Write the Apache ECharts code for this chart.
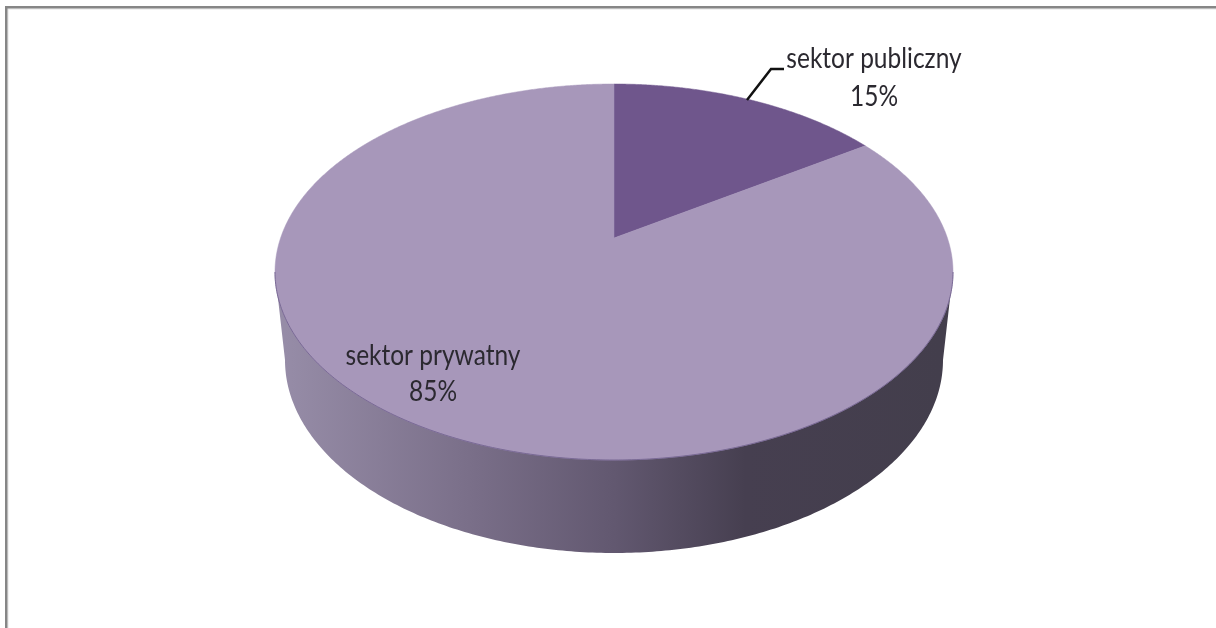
<!DOCTYPE html>
<html><head><meta charset="utf-8">
<style>html,body{margin:0;padding:0;background:#fff}#c{width:1216px;height:628px}</style>
<script src="https://cdn.jsdelivr.net/npm/echarts@6/dist/echarts.min.js"></script>
</head><body><div id="c"></div>
<script>
const categories = ['sektor publiczny', 'sektor prywatny'];
const values = [15, 85];
const sliceColors = ['#6f568c', '#a797ba'];

const chart = echarts.init(document.getElementById('c'), null, {renderer:'canvas'});
const total = values.reduce((a,b)=>a+b,0);
const C = {x:614,y:272,rx:339,ry:188};       // top ellipse
const B = {x:614,y:360,rx:329,ry:193};       // bottom ellipse
const A = {x:614,y:238,s:0.505};             // perspective apex
function rim(theta){
  const dx=Math.sin(theta), dy=-Math.cos(theta)*A.s;
  const ox=(A.x-C.x)/C.rx, oy=(A.y-C.y)/C.ry, px=dx/C.rx, py=dy/C.ry;
  const a=px*px+py*py, b=2*(ox*px+oy*py), c=ox*ox+oy*oy-1;
  const t=(-b+Math.sqrt(b*b-4*a*c))/(2*a);
  return [A.x+dx*t, A.y+dy*t];
}
const font = '28px Lato';
const labelPos = [{x:874,y:59,lx:874,ly:97},{x:433,y:356,lx:433,ly:392}];
function label(text,x,y){
  return {type:'text',x:x,y:y,scaleX:0.875,z2:10,style:{text:text,font:font,fill:'#2b2930',textAlign:'center',textVerticalAlign:'middle'}};
}
function renderSlice(params,api){
  const i=params.dataIndex;
  let before=0; for(let k=0;k<i;k++) before+=values[k];
  const v=api.value(1);
  const a0=before/total*Math.PI*2, a1=(before+v)/total*Math.PI*2;
  const n=Math.max(2,Math.round((a1-a0)/(Math.PI*2)*1200));
  const pts=[[A.x,A.y]];
  for(let k=0;k<=n;k++) pts.push(rim(a0+(a1-a0)*k/n));
  const kids=[{type:'polygon',shape:{points:pts},style:{fill:sliceColors[i],stroke:sliceColors[i],lineWidth:0.5}}];
  const p=labelPos[i];
  if(i===1){
    const front=[];
    for(let k=0;k<=240;k++){
      const t=Math.PI*k/240;
      front.push([C.x-C.rx*Math.cos(t),C.y+C.ry*Math.sin(t)]);
    }
    kids.push({type:'polyline',shape:{points:front},style:{stroke:'#7a6a96',lineWidth:1,fill:null}});
  }
  kids.push(label(categories[i],p.x,p.y));
  kids.push(label(Math.round(v/total*100)+'%',p.lx,p.ly));
  if(i===0){
    kids.push({type:'polyline',shape:{points:[[747,100],[771,69],[784,69]]},style:{stroke:'#111',lineWidth:2.5,fill:null}});
  }
  return {type:'group',children:kids};
}
function renderSide(){
  const pts=[[C.x-C.rx,C.y]];
  for(let k=0;k<=240;k++){
    const t=Math.PI*k/240;
    pts.push([B.x-B.rx*Math.cos(t),B.y+B.ry*Math.sin(t)]);
  }
  pts.push([C.x+C.rx,C.y]);
  const grad=new echarts.graphic.LinearGradient(285,0,943,0,[
    {offset:0,color:'#968ca7'},{offset:0.28,color:'#7a6f89'},{offset:0.5,color:'#625870'},
    {offset:0.7,color:'#463f50'},{offset:1,color:'#433e4c'}],true);
  return {type:'polygon',shape:{points:pts},style:{fill:grad}};
}
chart.setOption({
  animation:false,
  backgroundColor:'#fff',
  graphic:[
    {type:'rect',shape:{x:5,y:8.5,width:1211,height:1},style:{fill:'#e4e4e4'},silent:true},
    {type:'rect',shape:{x:7.5,y:8,width:1,height:620},style:{fill:'#e4e4e4'},silent:true},
    {type:'rect',shape:{x:5,y:6,width:1211,height:2.5},style:{fill:'#868686'},silent:true},
    {type:'rect',shape:{x:5,y:6,width:2.5,height:622},style:{fill:'#868686'},silent:true}
  ],
  series:[
    {type:'custom',coordinateSystem:'none',silent:true,z:1,data:[[0]],renderItem:renderSide},
    {type:'custom',coordinateSystem:'none',silent:true,z:2,
     data:values.map((v,i)=>({name:categories[i],value:[i,v]})),renderItem:renderSlice}
  ]
});
</script></body></html>
